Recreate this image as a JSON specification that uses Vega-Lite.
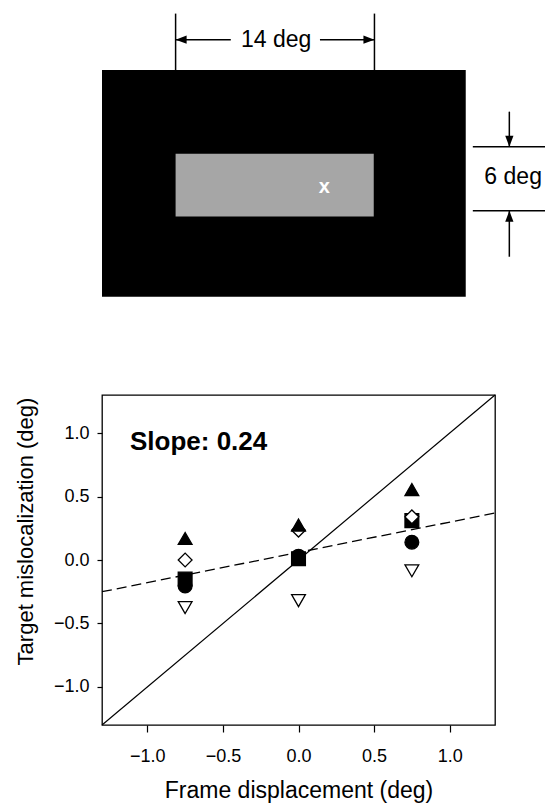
{
  "$schema": "https://vega.github.io/schema/vega-lite/v6.json",
  "background": "white",
  "padding": {"left": 13, "top": 0, "right": 0, "bottom": 0},
  "spacing": 91,
  "config": {
    "font": "Liberation Sans",
    "view": {"stroke": "black", "strokeWidth": 1.3},
    "axis": {
      "grid": false,
      "domain": false,
      "tickColor": "black",
      "tickWidth": 1.2,
      "labelColor": "black",
      "titleColor": "black",
      "labelFont": "Liberation Sans",
      "titleFont": "Liberation Sans",
      "labelFontSize": 18,
      "titleFontSize": 22,
      "titleFontWeight": "normal"
    }
  },
  "vconcat": [
    {
      "width": 443,
      "height": 300,
      "view": {"stroke": null},
      "layer": [
        {
          "data": {"values": [
            {"part": "frame", "x1": -12.2, "x2": 13.5, "y1": -10.7, "y2": 11.0},
            {"part": "window", "x1": -7, "x2": 7, "y1": -3, "y2": 3}
          ]},
          "mark": {"type": "rect"},
          "encoding": {
            "x": {"field": "x1", "type": "quantitative", "scale": {"domain": [-12.2, 19.1], "nice": false, "zero": false}, "axis": null},
            "x2": {"field": "x2"},
            "y": {"field": "y1", "type": "quantitative", "scale": {"domain": [-11, 17.7], "nice": false, "zero": false}, "axis": null},
            "y2": {"field": "y2"},
            "color": {"field": "part", "type": "nominal", "scale": {"domain": ["frame", "window"], "range": ["#000000", "#a6a6a6"]}, "legend": null}
          }
        },
        {
          "data": {"values": [
            {"x1": -7, "y1": 11.0, "x2": -7, "y2": 16.4},
            {"x1": 7.05, "y1": 11.0, "x2": 7.05, "y2": 16.4},
            {"x1": -7, "y1": 13.9, "x2": -3.1, "y2": 13.9},
            {"x1": 3.2, "y1": 13.9, "x2": 7.05, "y2": 13.9},
            {"x1": 14.0, "y1": 3.67, "x2": 19.1, "y2": 3.67},
            {"x1": 14.0, "y1": -2.46, "x2": 19.1, "y2": -2.46},
            {"x1": 16.58, "y1": 3.67, "x2": 16.58, "y2": 7.02},
            {"x1": 16.58, "y1": -6.86, "x2": 16.58, "y2": -2.46}
          ]},
          "mark": {"type": "rule", "color": "black", "strokeWidth": 1.5},
          "encoding": {
            "x": {"field": "x1", "type": "quantitative", "scale": {"domain": [-12.2, 19.1], "nice": false, "zero": false}, "axis": null},
            "x2": {"field": "x2"},
            "y": {"field": "y1", "type": "quantitative", "scale": {"domain": [-11, 17.7], "nice": false, "zero": false}, "axis": null},
            "y2": {"field": "y2"}
          }
        },
        {
          "data": {"values": [
            {"x": -7, "y": 13.9, "head": "M0,0L2,-0.75L2,0.75Z"},
            {"x": 7.05, "y": 13.9, "head": "M0,0L-2,-0.75L-2,0.75Z"},
            {"x": 16.58, "y": 3.67, "head": "M0,0L-0.75,-2L0.75,-2Z"},
            {"x": 16.58, "y": -2.46, "head": "M0,0L-0.75,2L0.75,2Z"}
          ]},
          "mark": {"type": "point", "filled": true, "color": "black", "size": 121, "opacity": 1},
          "encoding": {
            "x": {"field": "x", "type": "quantitative", "scale": {"domain": [-12.2, 19.1], "nice": false, "zero": false}, "axis": null},
            "y": {"field": "y", "type": "quantitative", "scale": {"domain": [-11, 17.7], "nice": false, "zero": false}, "axis": null},
            "shape": {"field": "head", "type": "nominal", "scale": null}
          }
        },
        {
          "data": {"values": [
            {"x": 0.1, "y": 13.9, "label": "14 deg"},
            {"x": 16.85, "y": 0.8, "label": "6 deg"}
          ]},
          "mark": {"type": "text", "fontSize": 23, "color": "black", "align": "center", "baseline": "middle"},
          "encoding": {
            "x": {"field": "x", "type": "quantitative", "scale": {"domain": [-12.2, 19.1], "nice": false, "zero": false}, "axis": null},
            "y": {"field": "y", "type": "quantitative", "scale": {"domain": [-11, 17.7], "nice": false, "zero": false}, "axis": null},
            "text": {"field": "label"}
          }
        },
        {
          "data": {"values": [{"x": 3.5, "y": -0.2, "label": "x"}]},
          "mark": {"type": "text", "fontSize": 20, "fontWeight": "bold", "color": "white", "align": "center", "baseline": "middle"},
          "encoding": {
            "x": {"field": "x", "type": "quantitative", "scale": {"domain": [-12.2, 19.1], "nice": false, "zero": false}, "axis": null},
            "y": {"field": "y", "type": "quantitative", "scale": {"domain": [-11, 17.7], "nice": false, "zero": false}, "axis": null},
            "text": {"field": "label"}
          }
        }
      ]
    },
    {
      "width": 393,
      "height": 330,
      "layer": [
        {
          "data": {"values": [{"x": -1.3, "y": -1.3}, {"x": 1.3, "y": 1.3}]},
          "mark": {"type": "line", "color": "black", "strokeWidth": 1.2},
          "encoding": {
            "x": {"field": "x", "type": "quantitative", "scale": {"domain": [-1.3, 1.3], "nice": false, "zero": false},
                  "axis": {"title": "Frame displacement (deg)", "values": [-1, -0.5, 0, 0.5, 1], "format": ".1f", "tickSize": 7, "labelPadding": 15, "titlePadding": 14, "titleFontSize": 23}},
            "y": {"field": "y", "type": "quantitative", "scale": {"domain": [-1.3, 1.3], "nice": false, "zero": false},
                  "axis": {"title": "Target mislocalization (deg)", "values": [-1, -0.5, 0, 0.5, 1], "format": ".1f", "tickSize": 5, "labelPadding": 8, "titlePadding": 16, "titleY": 136}}
          }
        },
        {
          "data": {"values": [{"x": -1.3, "y": -0.25}, {"x": 1.3, "y": 0.37}]},
          "mark": {"type": "line", "color": "black", "strokeWidth": 1.3, "strokeDash": [10, 5]},
          "encoding": {
            "x": {"field": "x", "type": "quantitative", "scale": {"domain": [-1.3, 1.3], "nice": false, "zero": false}},
            "y": {"field": "y", "type": "quantitative", "scale": {"domain": [-1.3, 1.3], "nice": false, "zero": false}}
          }
        },
        {
          "data": {"values": [
            {"x": -0.75, "y": -0.15, "s": "C"},
            {"x": 0, "y": 0.01, "s": "C"},
            {"x": 0.75, "y": 0.31, "s": "C"},
            {"x": -0.75, "y": -0.205, "s": "D"},
            {"x": 0, "y": 0.03, "s": "D"},
            {"x": 0.75, "y": 0.14, "s": "D"},
            {"x": -0.75, "y": 0.0, "s": "B"},
            {"x": 0, "y": 0.235, "s": "B"},
            {"x": 0.75, "y": 0.34, "s": "B"},
            {"x": -0.75, "y": -0.375, "s": "E"},
            {"x": 0, "y": -0.32, "s": "E"},
            {"x": 0.75, "y": -0.085, "s": "E"},
            {"x": -0.75, "y": 0.17, "s": "A"},
            {"x": 0, "y": 0.275, "s": "A"},
            {"x": 0.75, "y": 0.555, "s": "A"}
          ]},
          "mark": {"type": "point", "stroke": "black", "strokeWidth": 1.3, "opacity": 1, "size": 190},
          "encoding": {
            "x": {"field": "x", "type": "quantitative", "scale": {"domain": [-1.3, 1.3], "nice": false, "zero": false}},
            "y": {"field": "y", "type": "quantitative", "scale": {"domain": [-1.3, 1.3], "nice": false, "zero": false}},
            "shape": {"field": "s", "type": "nominal", "scale": {"domain": ["A", "B", "C", "D", "E"], "range": ["triangle-up", "diamond", "square", "circle", "triangle-down"]}, "legend": null},
            "fill": {"field": "s", "type": "nominal", "scale": {"domain": ["A", "B", "C", "D", "E"], "range": ["black", "white", "black", "black", "white"]}, "legend": null}
          }
        },
        {
          "data": {"values": [{"x": -1.115, "y": 0.864, "label": "Slope: 0.24"}]},
          "mark": {"type": "text", "fontSize": 26, "fontWeight": "bold", "color": "black", "align": "left", "baseline": "alphabetic"},
          "encoding": {
            "x": {"field": "x", "type": "quantitative", "scale": {"domain": [-1.3, 1.3], "nice": false, "zero": false}},
            "y": {"field": "y", "type": "quantitative", "scale": {"domain": [-1.3, 1.3], "nice": false, "zero": false}},
            "text": {"field": "label"}
          }
        }
      ]
    }
  ]
}
